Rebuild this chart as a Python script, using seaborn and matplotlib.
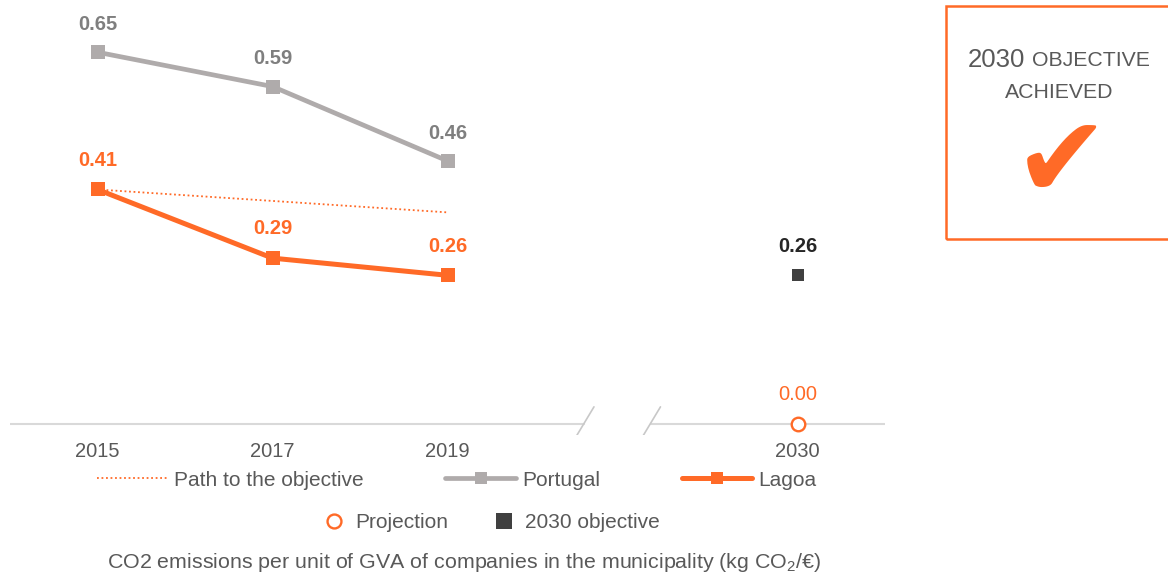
import pandas as pd
import matplotlib
matplotlib.use("Agg")
import matplotlib.pyplot as plt
import seaborn as sns
from matplotlib.lines import Line2D
from matplotlib.patches import Rectangle

# datos
anos = ["2015", "2017", "2019"]
pos_anos = [0, 1, 2]
portugal = [0.65, 0.59, 0.46]
lagoa = [0.41, 0.29, 0.26]
camino = [0.41, 0.39, 0.37]   # path to the objective (punteado)
ano_obj = "2030"
pos_obj = 4
objetivo_2030 = [0.26]
proyeccion_2030 = [0.00]

NARANJA = "#FF6A27"
GRIS = "#AFABAB"
GRIS_TXT = "#7F7F7F"
OSCURO = "#404040"
TXT = "#595959"
FS = 14.5

sns.set_style("white")
plt.rcParams["font.family"] = ["Liberation Sans", "DejaVu Sans"]

df = pd.DataFrame({"pos": pos_anos, "Portugal": portugal, "Lagoa": lagoa, "Camino": camino})

fig = plt.figure(figsize=(11.68, 5.76), dpi=100)
ax = fig.add_axes([10 / 1168, 0.244, 875 / 1168, 0.715])

sns.lineplot(data=df, x="pos", y="Camino", ax=ax, color=NARANJA, lw=1.3, linestyle=(0, (1, 1.5)))
sns.lineplot(data=df, x="pos", y="Portugal", ax=ax, color=GRIS, lw=3.4, marker="s", markersize=9.5,
             markeredgewidth=0)
sns.lineplot(data=df, x="pos", y="Lagoa", ax=ax, color=NARANJA, lw=3.6, marker="s", markersize=9.5,
             markeredgewidth=0)
sns.scatterplot(x=[pos_obj], y=objetivo_2030, ax=ax, color=OSCURO, marker="s", s=85, linewidth=0)
sns.scatterplot(x=[pos_obj], y=proyeccion_2030, ax=ax, facecolor="white", edgecolor=NARANJA,
                marker="o", s=95, linewidth=1.7, zorder=5)

# etiquetas de valores
for p, v in zip(pos_anos, portugal):
    ax.annotate(f"{v:.2f}", (p, v), xytext=(0, 20), textcoords="offset points", ha="center",
                va="center", fontsize=FS, fontweight="bold", color=GRIS_TXT)
for p, v in zip(pos_anos, lagoa):
    ax.annotate(f"{v:.2f}", (p, v), xytext=(0, 21), textcoords="offset points", ha="center",
                va="center", fontsize=FS, fontweight="bold", color=NARANJA)
ax.annotate(f"{objetivo_2030[0]:.2f}", (pos_obj, objetivo_2030[0]), xytext=(0, 21),
            textcoords="offset points", ha="center", va="center", fontsize=FS,
            fontweight="bold", color="#262626")
ax.annotate(f"{proyeccion_2030[0]:.2f}", (pos_obj, proyeccion_2030[0]), xytext=(0, 21),
            textcoords="offset points", ha="center", va="center", fontsize=FS, color=NARANJA)

# eje con corte
ax.plot([-0.5, 2.78], [0, 0], color="#D9D9D9", lw=1.5, zorder=1)
ax.plot([3.16, 4.5], [0, 0], color="#D9D9D9", lw=1.5, zorder=1)
for xc in [2.78, 3.16]:
    ax.plot([xc - 0.057, xc + 0.057], [-0.028, 0.03], color="#C8C8C8", lw=1.2)

ax.set_xlim(-0.5, 4.5)
ax.set_ylim(-0.02, 0.7)
ax.set_xticks(pos_anos + [pos_obj])
ax.set_xticklabels(anos + [ano_obj])
ax.tick_params(axis="x", length=0, labelsize=FS, colors=TXT, pad=4.5)
ax.set_yticks([])
ax.set_xlabel("")
ax.set_ylabel("")
for s in ax.spines.values():
    s.set_visible(False)

# leyendas
h1 = [Line2D([], [], color=NARANJA, lw=1.3, linestyle=(0, (1, 1.5))),
      Line2D([], [], color=GRIS, lw=3.4, marker="s", markersize=8, markeredgewidth=0),
      Line2D([], [], color=NARANJA, lw=3.6, marker="s", markersize=8, markeredgewidth=0)]
fig.legend(h1, ["Path to the objective", "Portugal", "Lagoa"], loc="center",
           bbox_to_anchor=(457 / 1168, 1 - 480 / 576), ncol=3, frameon=False,
           fontsize=15, handlelength=3.4, columnspacing=3.9, handletextpad=0.3,
           labelcolor=TXT)
h2 = [Line2D([], [], color=NARANJA, marker="o", markersize=10, markerfacecolor="white",
             markeredgewidth=1.7, lw=0),
      Line2D([], [], color=OSCURO, marker="s", markersize=11, markeredgewidth=0, lw=0)]
fig.legend(h2, ["Projection", "2030 objective"], loc="center",
           bbox_to_anchor=(492 / 1168, 1 - 523 / 576), ncol=2, frameon=False, fontsize=15,
           handlelength=1.0, columnspacing=2.2, handletextpad=0.5, labelcolor=TXT)

fig.text(464 / 1168, 1 - 563 / 576,
         r"CO2 emissions per unit of GVA of companies in the municipality (kg CO$_{\mathregular{2}}$/€)",
         ha="center", va="center", fontsize=15.4, color=TXT)

# recuadro objetivo
fig.patches.append(Rectangle((946 / 1168, 1 - 239 / 576), 0.2, 233 / 576, transform=fig.transFigure,
                             fill=False, edgecolor=NARANJA, lw=1.8))
fig.text(1025 / 1168, 1 - 60 / 576, "2030", ha="right", va="center", fontsize=18.5, color=TXT)
fig.text(1032 / 1168, 1 - 61 / 576, "OBJECTIVE", ha="left", va="center", fontsize=15.3, color=TXT)
fig.text(1059 / 1168, 1 - 92 / 576, "ACHIEVED", ha="center", va="center", fontsize=15.3, color=TXT)
fig.text(1062 / 1168, 1 - 166 / 576, "\u2714", ha="center", va="center", fontsize=82,
         color=NARANJA, family="DejaVu Sans")

fig.savefig("out.png", dpi=100)
